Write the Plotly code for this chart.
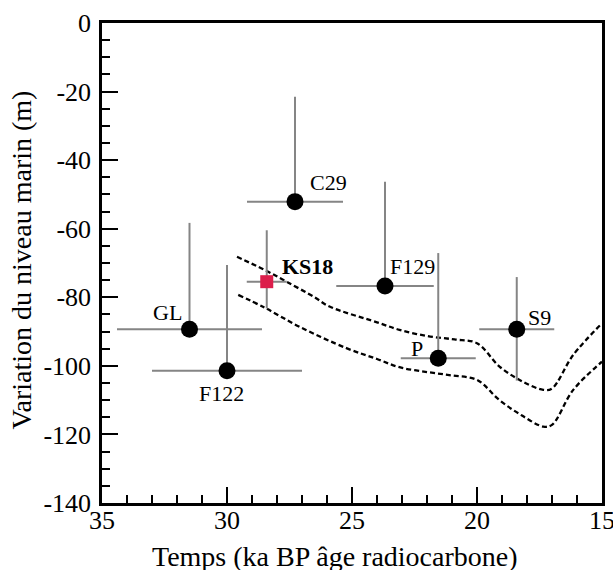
import plotly.graph_objects as go

# sites (ka BP, sea level in m)
sites = ['GL', 'F122', 'C29', 'F129', 'P', 'S9']
site_age = [31.5, 30.0, 27.28, 23.68, 21.55, 18.41]
site_level = [-89.3, -101.4, -52.1, -76.7, -97.8, -89.3]
site_age_err = [2.9, 3.0, 1.92, 1.95, 1.5, 1.5]
site_level_up = [31.0, 30.8, 30.6, 30.4, 30.7, 15.2]
site_level_down = [0, 0, 0, 0, 0, 15.0]

ks18_age = [28.41]
ks18_level = [-75.45]
ks18_age_err = [0.8]
ks18_level_up = [15.0]
ks18_level_down = [7.8]

upper_age = [29.6, 28.5, 27.6, 26.5, 25.9, 24.0, 23.1, 22.0, 20.9, 20.0,
             19.1, 18.2, 17.35, 17.0, 16.15, 15.0]
upper_level = [-68.2, -72.0, -75.5, -80.0, -82.7, -87.3, -89.5, -91.3, -92.3, -93.4,
               -100.2, -104.5, -107.0, -106.6, -96.8, -87.6]
lower_age = [29.55, 28.5, 27.1, 25.2, 24.0, 23.1, 22.0, 21.0, 20.0, 19.1,
             18.2, 17.35, 17.0, 16.15, 15.0]
lower_level = [-79.3, -83.0, -88.6, -94.9, -98.0, -100.4, -101.8, -102.8, -104.1, -110.0,
               -114.5, -117.7, -117.2, -107.0, -98.8]

x_ticks = [35, 30, 25, 20, 15]
y_ticks = [0, -20, -40, -60, -80, -100, -120, -140]
y_tick_text = ['0', '-20', '-40', '-60', '-80', '-100', '-120', '-140']

# label placement in pixels relative to the point
label_shift = {
    'GL': (-6, 17, 'right'),
    'F122': (-6, -23, 'center'),
    'C29': (13, 19, 'left'),
    'F129': (3, 19, 'left'),
    'P': (-13, 10, 'right'),
    'S9': (9, 12, 'left'),
}

serif = "Liberation Serif"
grey = "#858585"

fig = go.Figure()

for ages, levels in [(upper_age, upper_level), (lower_age, lower_level)]:
    fig.add_trace(go.Scatter(
        x=ages, y=levels, mode='lines', line_shape='spline',
        line=dict(color='black', width=2.3, dash='5px,3px'),
        hoverinfo='skip'))

fig.add_trace(go.Scatter(
    x=site_age, y=site_level, mode='markers',
    marker=dict(color='black', size=17),
    error_x=dict(type='data', array=site_age_err, color=grey, thickness=2, width=0),
    error_y=dict(type='data', symmetric=False, array=site_level_up,
                 arrayminus=site_level_down, color=grey, thickness=2, width=0),
))

fig.add_trace(go.Scatter(
    x=ks18_age, y=ks18_level, mode='markers',
    marker=dict(color='#dc1e4b', size=13, symbol='square'),
    error_x=dict(type='data', array=ks18_age_err, color=grey, thickness=2, width=0),
    error_y=dict(type='data', symmetric=False, array=ks18_level_up,
                 arrayminus=ks18_level_down, color=grey, thickness=2, width=0),
))

for name, a, l in zip(sites, site_age, site_level):
    dx, dy, anchor = label_shift[name]
    fig.add_annotation(x=a, y=l, text=name, showarrow=False, xanchor=anchor,
                       yanchor='middle', xshift=dx, yshift=dy,
                       font=dict(family=serif, size=22, color='black'))

fig.add_annotation(x=ks18_age[0], y=ks18_level[0], text='<b>KS18</b>', showarrow=False,
                   xanchor='left', yanchor='middle', xshift=13, yshift=15,
                   font=dict(family=serif, size=22, color='black'))

fig.add_annotation(x=0.466, y=-0.111, xref='paper', yref='paper',
                   xanchor='center', yanchor='middle',
                   text='Temps (ka BP âge radiocarbone)', showarrow=False,
                   font=dict(family=serif, size=28, color='black'))
fig.add_annotation(x=-0.16, y=0.505, xref='paper', yref='paper', textangle=-90,
                   xanchor='center', yanchor='middle',
                   text='Variation du niveau marin (m)', showarrow=False,
                   font=dict(family=serif, size=28, color='black'))

fig.update_xaxes(
    range=[35, 15], tickvals=x_ticks, ticks='inside', ticklen=16, tickwidth=2,
    tickcolor='black', showline=True, linecolor='black', linewidth=2.5, mirror=True,
    showgrid=False, zeroline=False, ticklabelstandoff=-8, automargin=False,
    ticklabeloverflow='allow',
    tickfont=dict(family=serif, size=26, color='black'),
    minor=dict(dtick=1, ticks='inside', ticklen=8, tickwidth=2, tickcolor='black',
               showgrid=False),
)
fig.update_yaxes(
    range=[-140, 0], tickvals=y_ticks, ticktext=y_tick_text, ticks='inside',
    ticklen=16, tickwidth=2,
    tickcolor='black', showline=True, linecolor='black', linewidth=2.5, mirror=True,
    showgrid=False, zeroline=False, ticklabelstandoff=3, automargin=False,
    ticklabeloverflow='allow',
    tickfont=dict(family=serif, size=26, color='black'),
    minor=dict(dtick=5, ticks='inside', ticklen=8, tickwidth=2, tickcolor='black',
               showgrid=False),
)

fig.update_layout(
    width=613, height=570,
    margin=dict(l=102, r=11, t=23, b=67),
    paper_bgcolor='white', plot_bgcolor='white',
    showlegend=False,
    font=dict(family=serif, color='black'),
)

fig.write_html("out.html", config={'displayModeBar': False},
               post_script="document.body.style.margin='0';")
